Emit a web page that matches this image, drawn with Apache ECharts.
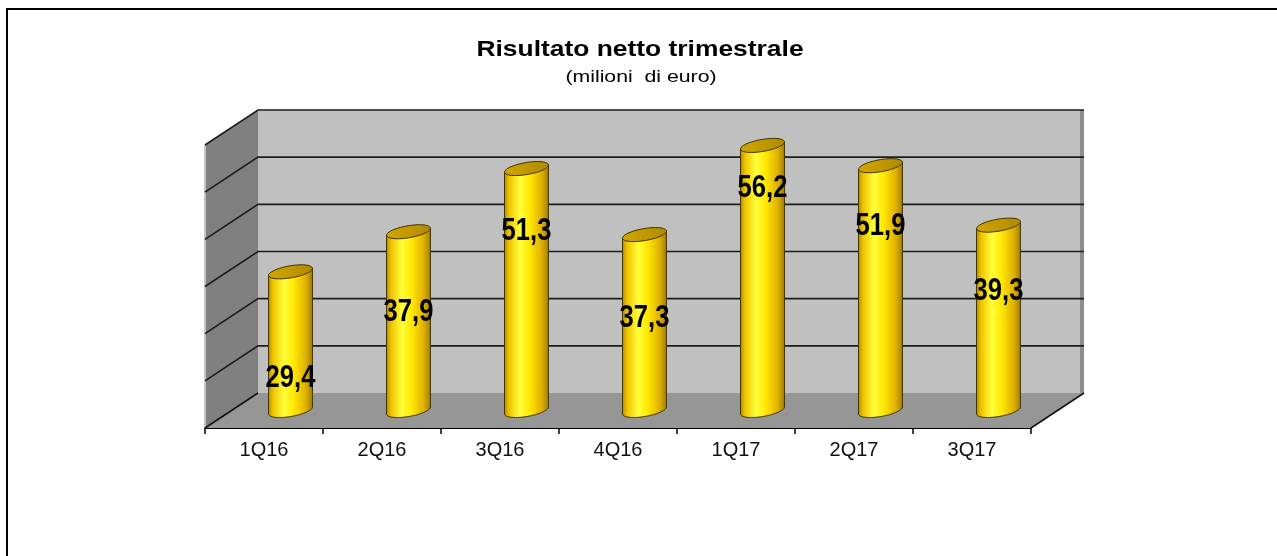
<!DOCTYPE html>
<html>
<head>
<meta charset="utf-8">
<title>Risultato netto trimestrale</title>
<script src="https://cdn.jsdelivr.net/npm/echarts@6/dist/echarts.min.js"></script>
<style>
  html, body { margin: 0; padding: 0; background: #fff; }
  #chart { width: 1277px; height: 556px; }
</style>
</head>
<body>
<div id="chart"></div>
<script>
// dati: risultato netto per trimestre (milioni di euro)
const categories = ['1Q16', '2Q16', '3Q16', '4Q16', '1Q17', '2Q17', '3Q17']
const values = [29.4, 37.9, 51.3, 37.3, 56.2, 51.9, 39.3]
const yTicks = [0, 10, 20, 30, 40, 50, 60]

const yMax = yTicks[yTicks.length - 1]
// where Excel put each label, in axis units
const labelAt = [6.9, 20.8, 38.1, 19.6, 47.2, 39.1, 25.3]
// half of the 3D depth, px (back = +x / -y)
const DX = 26.5
const DY = 17.5

const chart = echarts.init(document.getElementById('chart'))

function fmt(v) {
  return v.toFixed(1).replace('.', ',')
}

function renderWalls(params, api) {
  const bw = api.size([1, 0])[0]
  const first = api.coord([0, 0])
  const last = api.coord([categories.length - 1, 0])
  const xL = first[0] - bw / 2
  const xR = last[0] + bw / 2
  const y0 = first[1]
  const yT = api.coord([0, yMax])[1]
  const children = [
    // back wall
    { type: 'polygon', shape: { points: [[xL + DX, yT - DY], [xR + DX, yT - DY], [xR + DX, y0 - DY], [xL + DX, y0 - DY]] }, style: { fill: '#c0c0c0' } },
    { type: 'rect', shape: { x: xR + DX - 4, y: yT - DY, width: 4, height: y0 - yT }, style: { fill: '#8e8e8e' } },
    // side wall
    { type: 'polygon', shape: { points: [[xL - DX, yT + DY], [xL + DX, yT - DY], [xL + DX, y0 - DY], [xL - DX, y0 + DY]] }, style: { fill: '#808080' } },
    // floor
    { type: 'polygon', shape: { points: [[xL + DX, y0 - DY], [xR + DX, y0 - DY], [xR - DX, y0 + DY], [xL - DX, y0 + DY]] }, style: { fill: '#969696' } },
    { type: 'line', shape: { x1: xL - DX, y1: yT + DY, x2: xL - DX, y2: y0 + DY }, style: { stroke: '#c4c4c4', lineWidth: 2 } },
  ]
  yTicks.forEach(t => {
    if (t === 0) return
    const y = api.coord([0, t])[1]
    children.push({
      type: 'polyline',
      shape: { points: [[xL - DX, y + DY], [xL + DX, y - DY], [xR + DX, y - DY]] },
      style: { stroke: '#1c1c1c', lineWidth: 1.6, fill: null },
    })
  })
  children.push(
    { type: 'line', shape: { x1: xL - DX, y1: y0 + DY, x2: xL + DX, y2: y0 - DY }, style: { stroke: '#111', lineWidth: 1.5 } },
    { type: 'line', shape: { x1: xR + DX, y1: y0 - DY, x2: xR - DX, y2: y0 + DY }, style: { stroke: '#111', lineWidth: 1.5 } },
  )
  return { type: 'group', children }
}

function renderCylinder(params, api) {
  const i = api.value(0)
  const v = api.value(1)
  const top = api.coord([i, v])
  const base = api.coord([i, 0])
  const bw = api.size([1, 0])[0]
  const w = bw * 0.186
  const a = w * 0.5
  const r = Math.sqrt(w * w - a * a)
  const b = w * 0.32
  const t1 = Math.atan2(a, r)
  const pt = (c, t) => [c[0] + r * Math.cos(t) + a * Math.sin(t), c[1] - b * Math.sin(t)]

  const body = [pt(top, t1 + Math.PI)]
  for (let k = 0; k <= 30; k++)
    body.push(pt(base, t1 + Math.PI + Math.PI * k / 30))
  body.push(pt(top, t1))

  const cap = []
  for (let k = 0; k < 48; k++)
    cap.push(pt(top, Math.PI * 2 * k / 48))

  const lp = api.coord([i, labelAt[i]])

  return {
    type: 'group',
    children: [
      {
        type: 'polygon',
        shape: { points: body },
        style: {
          fill: new echarts.graphic.LinearGradient(0, 0, 1, 0, [
            { offset: 0, color: '#b88d00' },
            { offset: 0.12, color: '#f0c600' },
            { offset: 0.36, color: '#ffff3a' },
            { offset: 0.58, color: '#ffe600' },
            { offset: 0.84, color: '#deb000' },
            { offset: 1, color: '#9c7a00' },
          ]),
          stroke: '#3d3200',
          lineWidth: 1,
        },
      },
      {
        type: 'polygon',
        shape: { points: cap },
        style: {
          fill: new echarts.graphic.LinearGradient(0, 0, 1, 0, [
            { offset: 0, color: '#d2a600' },
            { offset: 1, color: '#b08a00' },
          ]),
          stroke: '#3d3200',
          lineWidth: 1,
        },
      },
      {
        type: 'text',
        x: lp[0],
        y: lp[1],
        scaleX: 0.8,
        style: {
          text: fmt(v),
          x: 0,
          y: 0,
          fill: '#000',
          fontSize: 32,
          fontWeight: 'bold',
          fontFamily: 'Liberation Sans',
          align: 'center',
          verticalAlign: 'middle',
        },
      },
    ],
  }
}

const option = {
  backgroundColor: '#fff',
  animation: false,
  graphic: [
    {
      type: 'rect',
      shape: { x: 7, y: 9, width: 1300, height: 600 },
      style: { fill: null, stroke: '#000', lineWidth: 2 },
    },
    {
      type: 'text',
      x: 640,
      y: 50,
      scaleX: 1.2,
      style: {
        text: 'Risultato netto trimestrale',
        x: 0,
        y: 0,
        fill: '#000',
        fontSize: 22,
        fontWeight: 'bold',
        fontFamily: 'Liberation Sans',
        align: 'center',
        verticalAlign: 'middle',
      },
    },
    {
      type: 'text',
      x: 641,
      y: 77,
      scaleX: 1.25,
      style: {
        text: '(milioni  di euro)',
        x: 0,
        y: 0,
        fill: '#000',
        fontSize: 17,
        fontFamily: 'Liberation Sans',
        align: 'center',
        verticalAlign: 'middle',
      },
    },
  ],
  grid: [
    // mid-depth plane, where the cylinders stand
    { left: 231.5, right: 219.5, top: 127.5, bottom: 145.5 },
    // front edge of the floor, carries the category axis
    { left: 205, right: 246, top: 145, bottom: 128 },
  ],
  xAxis: [
    { type: 'category', data: categories, gridIndex: 0, show: false },
    {
      type: 'category',
      data: categories,
      gridIndex: 1,
      boundaryGap: true,
      axisLine: { lineStyle: { color: '#000', width: 1.8 } },
      axisTick: { show: true, length: 6, interval: 0, lineStyle: { color: '#000', width: 1.5 } },
      axisLabel: { fontSize: 20, color: '#111', fontFamily: 'Liberation Sans', margin: 12, interval: 0 },
      splitLine: { show: false },
    },
  ],
  yAxis: [
    { type: 'value', gridIndex: 0, min: 0, max: yMax, interval: 10, show: false },
    { type: 'value', gridIndex: 1, min: 0, max: 1, show: false },
  ],
  series: [
    {
      type: 'custom',
      xAxisIndex: 0,
      yAxisIndex: 0,
      z: 1,
      silent: true,
      data: [[0, 0]],
      renderItem: renderWalls,
    },
    {
      name: 'Risultato netto',
      type: 'custom',
      xAxisIndex: 0,
      yAxisIndex: 0,
      z: 3,
      data: values.map((v, i) => [i, v]),
      encode: { x: 0, y: 1 },
      renderItem: renderCylinder,
    },
  ],
}

chart.setOption(option)
</script>
</body>
</html>
